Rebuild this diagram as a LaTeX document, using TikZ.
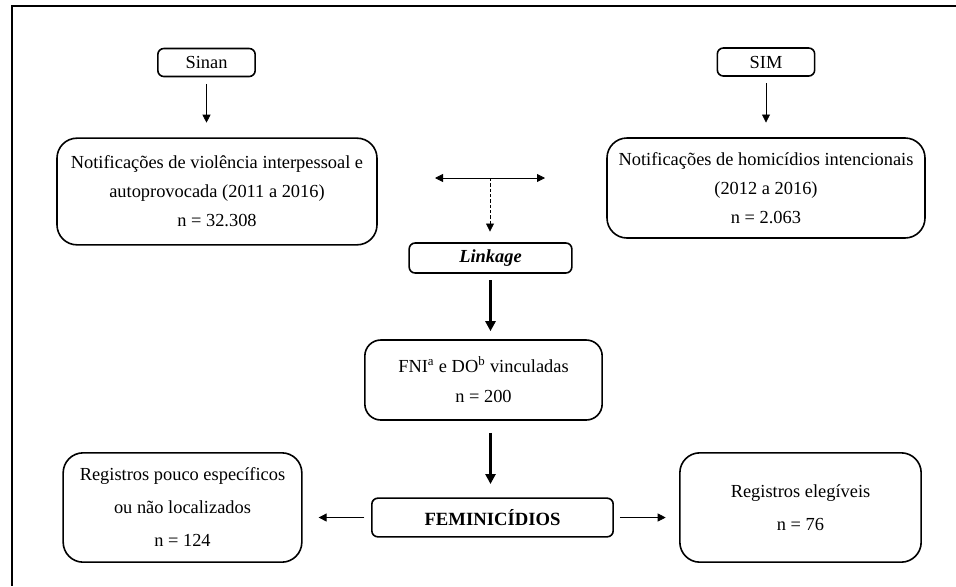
\documentclass[tikz,border=0pt]{standalone}
\usepackage{fontspec}
\setmainfont{Liberation Serif}
\usetikzlibrary{arrows.meta}

\begin{document}
\begin{tikzpicture}[x=0.75pt,y=-0.75pt,
  caixa/.style={draw,line width=1.2pt,rounded corners=15pt,align=center,font=\fontsize{13.8}{21.75}\selectfont},
  rotulo/.style={draw,line width=1.2pt,rounded corners=4.5pt,minimum height=21pt,align=center,font=\fontsize{13.8}{16}\selectfont},
  fina/.style={line width=0.6pt,-{Triangle[length=6pt,width=6pt]}},
  grossa/.style={line width=2pt,-{Triangle[length=7.5pt,width=7.5pt]}}]
\useasboundingbox (0,0) rectangle (956,586);
%moldura: só os lados de cima e da esquerda aparecem
\draw[line width=1.2pt] (956,6) -- (12,6) -- (12,586);
%fontes de dados
\node[rotulo,minimum width=73pt] (sinan) at (206.5,62.5) {Sinan};
\node[rotulo,minimum width=73pt] (sim) at (766,62) {SIM};
%notificações
\node[caixa,minimum width=240pt,minimum height=80pt] (notsinan) at (217,191.5)
  {Notificações de violência interpessoal e\\autoprovocada (2011 a 2016)\\n = 32.308};
\node[caixa,minimum width=238.5pt,minimum height=75pt] (notsim) at (766,188)
  {Notificações de homicídios intencionais\\(2012 a 2016)\\n = 2.063};
\draw[fina,shorten <=5pt,shorten >=11pt] (sinan.south) -- (sinan.south |- notsinan.north);
\draw[fina,shorten <=5pt,shorten >=11pt] (sim.south) -- (sim.south |- notsim.north);
%seta dupla e linkage
\coordinate (setaE) at (435,178);
\coordinate (setaD) at (545,178);
\coordinate (meio) at (490,178);
\draw[line width=0.6pt,{Triangle[length=6pt,width=6pt]}-{Triangle[length=6pt,width=6pt]}] (setaE) -- (setaD);
\node[rotulo,minimum width=122pt,minimum height=22.5pt] (linkage) at (490.5,258) {\textbf{\textit{Linkage}}};
\draw[fina,dash pattern=on 2.5pt off 1.5pt,shorten >=8pt] (meio) -- (meio |- linkage.north);
%registros vinculados
\node[caixa,rounded corners=12pt,minimum width=178pt,minimum height=60pt,font=\fontsize{13.8}{22.5}\selectfont] (fni) at (483.5,380)
  {FNI\textsuperscript{a} e DO\textsuperscript{b} vinculadas\\n = 200};
\draw[grossa,shorten <=5pt,shorten >=6pt] (linkage.south) -- (linkage.south |- fni.north);
\node[rotulo,minimum width=181pt,minimum height=29pt,font=\fontsize{14}{16}\selectfont\bfseries] (fem) at (492.5,517.5) {FEMINICÍDIOS};
\draw[grossa,shorten <=9pt,shorten >=10pt] (fni.south -| linkage) -- (fem.north -| linkage);
%desfechos
\node[caixa,minimum width=179pt,minimum height=82pt,font=\fontsize{13.8}{24.75}\selectfont] (pouco) at (182.5,507.5)
  {Registros pouco específicos\\ou não localizados\\n = 124};
\node[caixa,minimum width=181pt,minimum height=82pt,font=\fontsize{13.8}{24.75}\selectfont] (eleg) at (800.5,507.5)
  {Registros elegíveis\\n = 76};
\draw[fina,shorten <=5pt,shorten >=12pt] (fem.west) -- (pouco.east |- fem.west);
\draw[fina,shorten <=4.5pt,shorten >=10pt] (fem.east) -- (eleg.west |- fem.east);
\end{tikzpicture}
\end{document}
